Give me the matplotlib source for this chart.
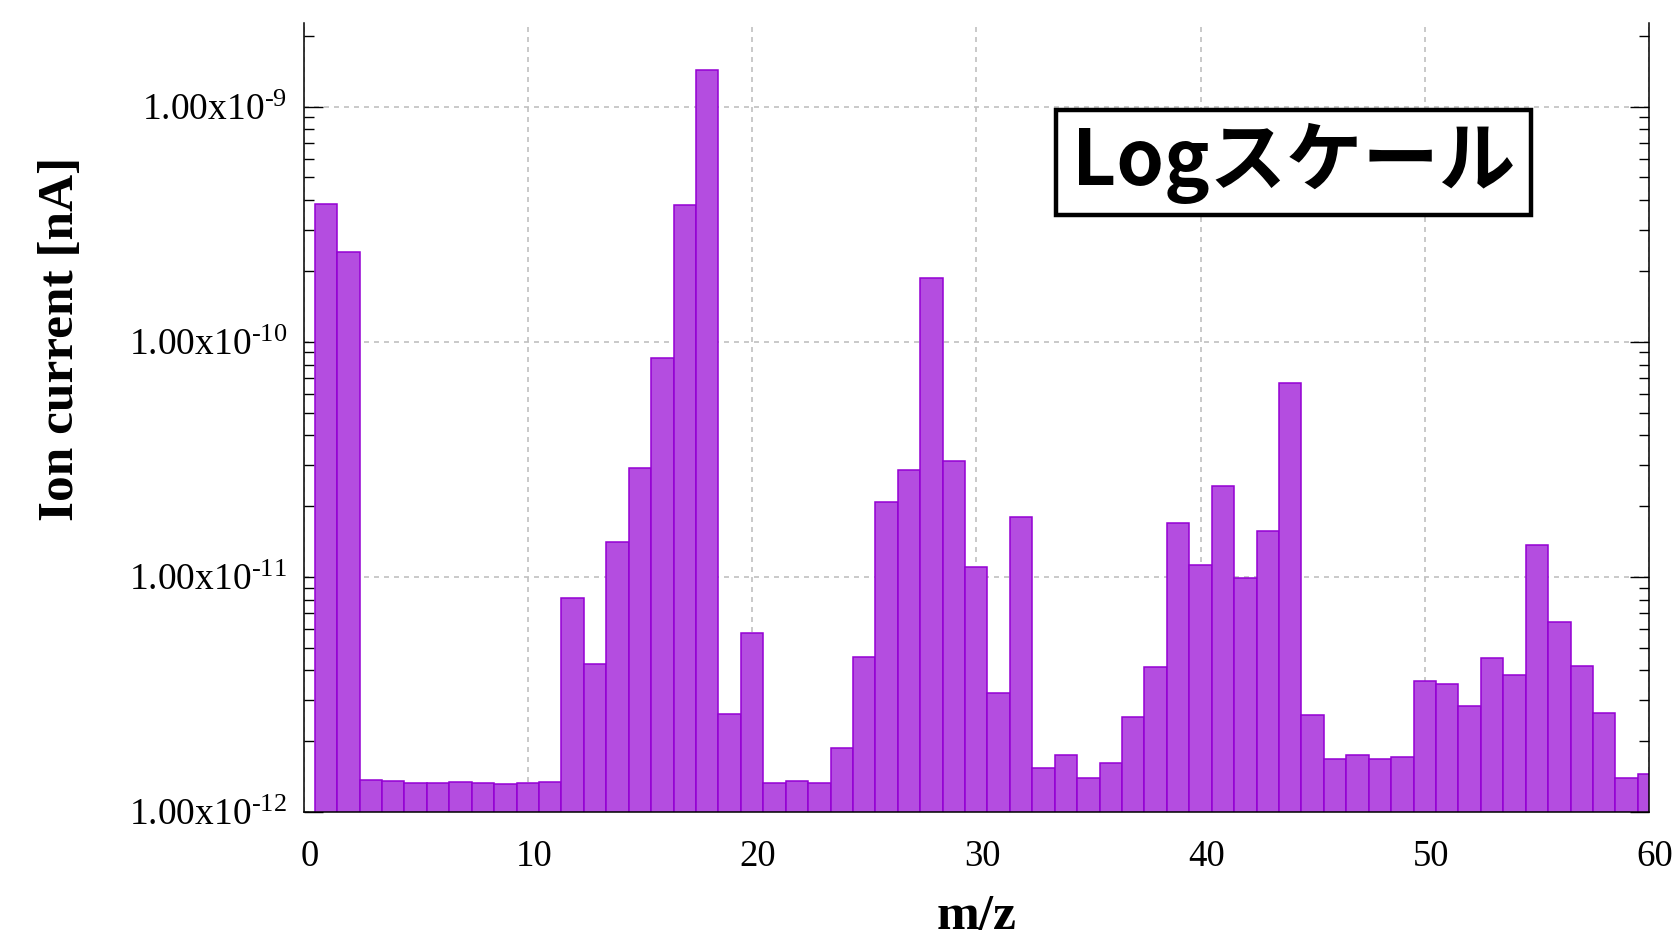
import matplotlib
matplotlib.use("Agg")
import matplotlib.pyplot as plt
from matplotlib.ticker import FixedLocator, FuncFormatter, LogLocator, NullFormatter
from matplotlib.patches import Rectangle
from matplotlib.transforms import ScaledTranslation
import numpy as np

plt.rcParams['font.family'] = ['Liberation Serif', 'DejaVu Serif']
plt.rcParams['mathtext.fontset'] = 'custom'
plt.rcParams['mathtext.rm'] = 'Liberation Serif'
plt.rcParams['mathtext.it'] = 'Liberation Serif:italic'
plt.rcParams['mathtext.bf'] = 'Liberation Serif:bold'

# Data
mz = list(range(1, 61))
ion_current = [
    3.86e-10, 2.41e-10, 1.27e-12, 1.25e-12, 1.23e-12, 1.23e-12, 1.24e-12, 1.23e-12, 1.22e-12, 1.23e-12,
    1.24e-12, 8.04e-12, 4.15e-12, 1.40e-11, 2.88e-11, 8.55e-11, 3.82e-10, 1.43e-9, 2.51e-12, 5.69e-12,
    1.23e-12, 1.25e-12, 1.23e-12, 1.78e-12, 4.47e-12, 2.08e-11, 2.85e-11, 1.87e-10, 3.10e-11, 1.09e-11,
    3.10e-12, 1.78e-11, 1.44e-12, 1.65e-12, 1.29e-12, 1.52e-12, 2.43e-12, 4.02e-12, 1.69e-11, 1.11e-11,
    2.43e-11, 9.80e-12, 1.55e-11, 6.65e-11, 2.48e-12, 1.58e-12, 1.64e-12, 1.58e-12, 1.62e-12, 3.51e-12,
    3.41e-12, 2.73e-12, 4.42e-12, 3.74e-12, 1.35e-11, 6.31e-12, 4.06e-12, 2.54e-12, 1.29e-12, 1.35e-12,
]
x_ticks = [0, 10, 20, 30, 40, 50, 60]
y_ticks = [1e-12, 1e-11, 1e-10, 1e-9]
x_label = "m/z"
y_label = "Ion current [nA]"
annotation = "Logスケール"

fig = plt.figure(figsize=(16.76, 9.39), dpi=100)
ax = fig.add_axes([0.1811, 0.1352, 0.9839 - 0.1811, 0.9752 - 0.1352])

ax.set_yscale('log')
ax.bar(mz, ion_current, width=1.0, bottom=1e-13, color='#b44de0',
       edgecolor='#9400d3', linewidth=1.1, zorder=3)

ax.set_xlim(0, 60)
ax.set_ylim(1e-12, 2.26e-9)

ax.xaxis.set_major_locator(FixedLocator(x_ticks))
ax.yaxis.set_major_locator(FixedLocator(y_ticks))
ax.yaxis.set_minor_locator(LogLocator(base=10, subs=np.arange(2, 10)))
ax.yaxis.set_minor_formatter(NullFormatter())

def yfmt(v, pos):
    e = int(round(np.log10(v)))
    return r'1.00x10$^{\mathregular{%s}}$' % str(e).replace('-', '\u2010')

ax.yaxis.set_major_formatter(FuncFormatter(yfmt))

ax.grid(True, which='major', color='#c0c0c0', linestyle=(0, (3, 3)), linewidth=1.2, zorder=0)
ax.set_axisbelow(True)

ax.spines['top'].set_visible(False)
for s in ['left', 'right', 'bottom']:
    ax.spines[s].set_linewidth(1.1)
    ax.spines[s].set_zorder(4)

ax.tick_params(axis='y', which='major', direction='in', length=13.5, width=1.0,
               left=True, right=True, labelsize=27, pad=12)
ax.tick_params(axis='y', which='minor', direction='in', length=7, width=1.0,
               left=True, right=True)
ax.tick_params(axis='x', which='both', length=0, labelsize=26.5, pad=20)

shift = ScaledTranslation(6 / 100, 0, fig.dpi_scale_trans)
for lab in ax.get_xticklabels():
    lab.set_transform(lab.get_transform() + shift)

ax.set_xlabel(x_label, fontsize=37, fontweight='bold')
ax.set_ylabel(y_label, fontsize=37, fontweight='bold')
ax.xaxis.set_label_coords(0.5, -0.104)
ax.yaxis.set_label_coords(-0.163, 0.60)

# Annotation box
ax.add_patch(Rectangle((0.5593, 0.757), 0.9123 - 0.5593, 0.890 - 0.757, transform=ax.transAxes,
                       facecolor='white', edgecolor='black', linewidth=3.2, zorder=6))
ax.text(0.7356, 0.822, annotation, transform=ax.transAxes, ha='center', va='center',
        fontsize=55, fontweight='bold', family=['Noto Sans CJK JP', 'DejaVu Sans'],
        zorder=7)

fig.savefig('out.png', dpi=100)
